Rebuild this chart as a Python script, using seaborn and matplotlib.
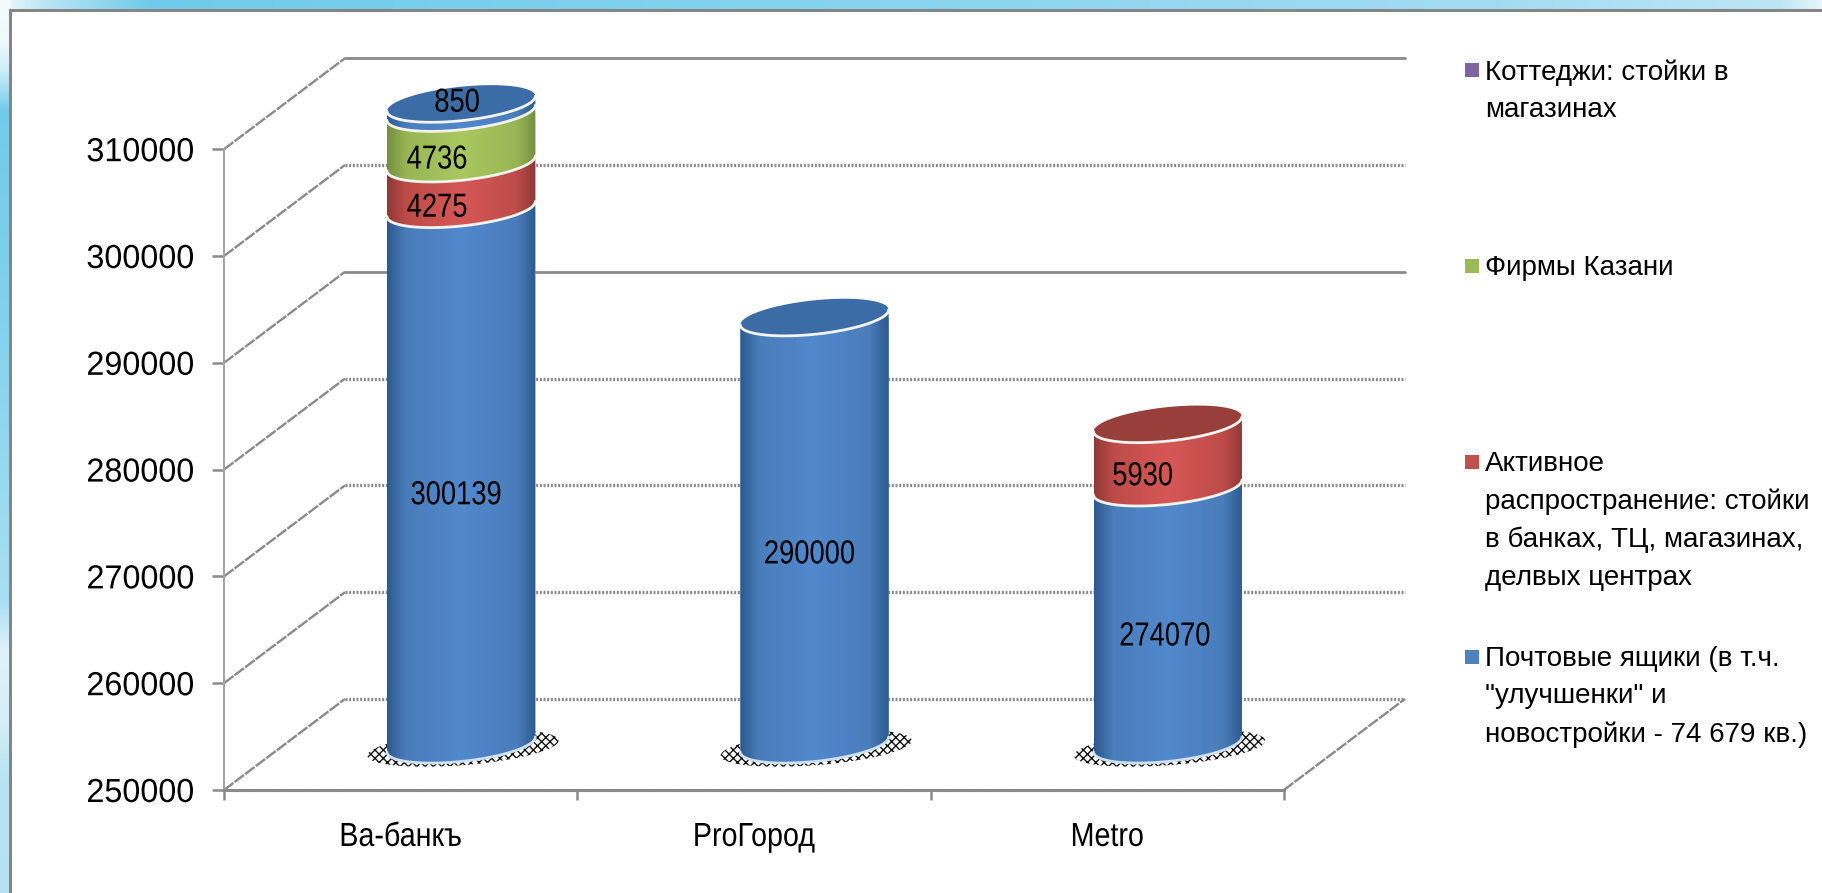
#!/usr/bin/env python3

import numpy as np
import pandas as pd
import matplotlib
matplotlib.use("Agg")
import matplotlib.pyplot as plt
from matplotlib.colors import LinearSegmentedColormap
from matplotlib.path import Path
from matplotlib.patches import Polygon
from matplotlib.patheffects import AbstractPathEffect
from matplotlib.transforms import Affine2D
import seaborn as sns

COMPANIES = ["Ва-банкъ", "ProГород", "Metro"]
POST_BOXES = [300139, 290000, 274070]
ACTIVE = [4275, 0, 5930]
FIRMS = [4736, 0, 0]
COTTAGES = [850, 0, 0]

SERIES_NAMES = ["Почтовые ящики", "Активное", "Фирмы Казани", "Коттеджи"]
SERIES_VALUES = [POST_BOXES, ACTIVE, FIRMS, COTTAGES]
Y_TICKS = [250000, 260000, 270000, 280000, 290000, 300000, 310000]

LEGEND_LABELS = [
    "Коттеджи: стойки в\nмагазинах",
    "Фирмы Казани",
    "Активное\nраспространение: стойки\nв банках, ТЦ, магазинах,\nделвых центрах",
    "Почтовые ящики (в т.ч.\n\"улучшенки\" и\nновостройки - 74 679 кв.)",
]
LEGEND_COLORS = ["#8064a2", "#9bbb59", "#c0504d", "#4f81bd"]
LEGEND_Y = [70, 266, 462, 657]

# dark edge, mid, highlight for the fake cylinder shading, top ellipse colour
# (the cottages slice really is blue in the original)
SHADES = {
    "Почтовые ящики": ("#2c5a8e", "#4a7dbb", "#5189cd", "#3c6ca5"),
    "Активное": ("#8f3835", "#bd4c49", "#d65856", "#983f3c"),
    "Фирмы Казани": ("#748f41", "#98b655", "#a9c85f", "#7d9a45"),
    "Коттеджи": ("#2c5a8e", "#4a7dbb", "#5189cd", "#3c6ca5"),
}

# little nudges of the value labels, in pixels
LABEL_NUDGE = {
    (0, 0): (-5, -19), (0, 1): (-24, -22), (0, 2): (-24, -22), (0, 3): (-4, 5),
    (1, 0): (-5, -24),
    (2, 0): (-3, -21), (2, 1): (-25, -21),
}

W, H = 1822, 893
PX_X = 353.3     # pixels per category
PX_Y = 106.8 / 10000     # pixels per value unit
X0_PX, Y0_PX = 224, 790  # where x=-0.5, y=250000 sit
WALL_DX = 121 / PX_X
WALL_DY = 91 / PX_Y
SEMI_MINOR = 17 / PX_Y
TILT = 7.5 / PX_Y
GRAY = "#8a8a8a"
SQUEEZE = 0.82   # the original type is a squashed Arial


class Squeeze(AbstractPathEffect):
    """Narrows drawn text horizontally around a pixel column."""

    def __init__(self, x0, sx=SQUEEZE):
        super().__init__()
        self.x0 = x0
        self.sx = sx

    def draw_path(self, renderer, gc, tpath, affine, rgbFace=None):
        squeezed = affine + Affine2D().translate(-self.x0, 0).scale(self.sx, 1).translate(self.x0, 0)
        renderer.draw_path(gc, tpath, squeezed, rgbFace)


def arc(cx, half, value, start, stop, n=60):
    t = np.linspace(start, stop, n)
    return cx + half * np.cos(t), value + SEMI_MINOR * np.sin(t) + TILT * np.cos(t)


def side_path(cx, half, low, high):
    xl, yl = arc(cx, half, low, np.pi, 2 * np.pi)
    xh, yh = arc(cx, half, high, 2 * np.pi, np.pi)
    return np.column_stack([np.r_[xl, xh], np.r_[yl, yh]])


def background():
    img = np.ones((H, W, 3))
    def rgb(c):
        return np.array(matplotlib.colors.to_rgb(c))
    top_x = [0, 40, 150, 800, 1500, 1780, 1821]
    top_c = np.array([rgb(c) for c in ["#f4fbfe", "#bfe8f5", "#6fcbe9", "#84d3ee", "#a3dcf2", "#bde6f5", "#e9f6fb"]])
    left_y = [0, 40, 70, 110, 300, 600, 650, 720, 780, 892]
    left_c = np.array([rgb(c) for c in ["#f4fbfe", "#eef9fd", "#cfeef8", "#70cbe9", "#80d1ec", "#a8dff2", "#dff2fa", "#d5eef8", "#b8e3f3", "#b5e2f3"]])
    for ch in range(3):
        img[:9, :, ch] = np.interp(np.arange(W), top_x, top_c[:, ch])[None, :]
        img[:, :10, ch] = np.interp(np.arange(H), left_y, left_c[:, ch])[:, None]
    img[9:12, 10:] = rgb("#858585")
    img[9:, 9:12] = rgb("#858585")
    return img


def main():
    sns.set_theme(style="white")
    plt.rcParams["font.family"] = ["Liberation Sans", "DejaVu Sans"]
    plt.rcParams["hatch.linewidth"] = 1.0

    fig = plt.figure(figsize=(W / 100, H / 100), dpi=100)
    bg = fig.add_axes([0, 0, 1, 1], zorder=-1)
    bg.imshow(background(), aspect="auto", interpolation="nearest")
    bg.axis("off")

    ax = fig.add_axes([0, 0, 1, 1])
    ax.patch.set_alpha(0)

    # stack the series, tallest cumulative first so the order of patches is known
    rows = []
    bottoms = np.zeros(len(COMPANIES))
    stack = []
    for name, vals in zip(SERIES_NAMES, SERIES_VALUES):
        tops = bottoms + np.array(vals)
        stack.append((name, bottoms.copy(), tops.copy()))
        for comp, top in zip(COMPANIES, tops):
            rows.append({"company": comp, "series": name, "top": top})
        bottoms = tops
    df = pd.DataFrame(rows)

    palette = {name: SHADES[name][1] for name in SERIES_NAMES}
    sns.barplot(data=df, x="company", y="top", hue="series", order=COMPANIES,
                hue_order=SERIES_NAMES[::-1], palette=palette, dodge=False,
                width=0.42, legend=False, saturation=1, ax=ax, zorder=5)
    bars = list(ax.patches)

    xlim = (-0.5 - X0_PX / PX_X, -0.5 + (W - X0_PX) / PX_X)
    ylim = (250000 - (H - Y0_PX) / PX_Y, 250000 + Y0_PX / PX_Y)
    ax.set_xlim(*xlim)
    ax.set_ylim(*ylim)
    ax.set_autoscale_on(False)

    # back wall, side wall
    for tick in Y_TICKS:
        solid = tick in (290000, 310000)
        ax.plot([-0.5 + WALL_DX, 2.5 + WALL_DX], [tick + WALL_DY] * 2, color=GRAY,
                lw=2 if solid else 2.4, ls="-" if solid else (0, (0.6, 0.5)), zorder=1)
        ax.plot([-0.5, -0.5 + WALL_DX], [tick, tick + WALL_DY], color=GRAY, lw=1.7,
                ls=(0, (5, 0.6)), zorder=1)
    ax.plot([2.5, 2.5 + WALL_DX], [250000, 250000 + WALL_DY], color=GRAY, lw=1.7,
            ls=(0, (5, 0.6)), zorder=1)

    n_comp = len(COMPANIES)
    depth = Affine2D().translate(WALL_DX / 2, WALL_DY / 2) + ax.transData
    for h, name in enumerate(SERIES_NAMES[::-1]):
        s_idx = SERIES_NAMES.index(name)
        for c in range(n_comp):
            bar = bars[h * n_comp + c]
            low = stack[s_idx][1][c]
            top = stack[s_idx][2][c]
            if top <= low:
                bar.set_visible(False)
                continue
            half = bar.get_width() / 2
            cx = bar.get_x() + half + WALL_DX / 2
            floor = max(low, 250000)
            base = floor + WALL_DY / 2
            peak = top + WALL_DY / 2
            clip = Path(side_path(cx, half, base, peak))
            dark, mid, light, cap = SHADES[name]
            cmap = LinearSegmentedColormap.from_list(
                name, [(0, dark), (0.13, mid), (0.5, light), (0.87, mid), (1, dark)])
            bar.set_transform(depth)
            bar.set_clip_box(None)
            bar.set_clip_path(clip, ax.transData)
            bar.set_zorder(3 + s_idx)
            im = ax.imshow(np.linspace(0, 1, 256)[None, :], cmap=cmap, aspect="auto",
                           extent=(cx - half, cx + half, base - 2 * SEMI_MINOR, peak + 2 * SEMI_MINOR),
                           zorder=3 + s_idx, interpolation="bilinear")
            im.set_clip_path(clip, ax.transData)

            # rim between the slices
            xa, ya = arc(cx, half, base, np.pi, 2 * np.pi)
            ax.plot(xa, ya, color="#cfe0ef" if s_idx == 0 else "#f4f4ee", lw=2,
                    zorder=3.5 + s_idx, solid_capstyle="round")
            if s_idx == 0:
                # stippled shadow under the cylinder
                xs, ys = arc(cx + 0.005, half * 1.29, base - 0.04 * WALL_DY, 0, 2 * np.pi)
                ax.add_patch(Polygon(np.column_stack([xs, ys]), closed=True, facecolor="none",
                                     edgecolor="#111111", lw=0, hatch="xxxx", zorder=2))

            is_top = all(stack[k][2][c] == top for k in range(s_idx, len(SERIES_NAMES)))
            if is_top:
                xc, yc = arc(cx, half, peak, 0, 2 * np.pi)
                ax.add_patch(Polygon(np.column_stack([xc, yc]), closed=True, facecolor=cap,
                                     edgecolor="none", zorder=7))
                xa, ya = arc(cx, half, peak, np.pi, 2 * np.pi)
                ax.plot(xa, ya, color="#f4f4f0", lw=2, zorder=7.5)

            value = SERIES_VALUES[s_idx][c]
            nudge = LABEL_NUDGE.get((c, s_idx), (0, 0))
            mid_value = (floor + top) / 2 + WALL_DY / 2
            label = ax.annotate(str(value), xy=(cx, mid_value), xytext=nudge,
                                textcoords="offset pixels", ha="center", va="center",
                                fontsize=24, color="black", zorder=9)
            label.set_path_effects([Squeeze(ax.transData.transform((cx, mid_value))[0] + nudge[0])])

    ax.set_xlabel("")
    ax.set_ylabel("")
    for side in ("top", "right"):
        ax.spines[side].set_visible(False)
    ax.spines["left"].set_position(("data", -0.5))
    ax.spines["left"].set_bounds(250000, 310000)
    ax.spines["left"].set(color="#a5a5a5", linewidth=1.4, linestyle=(0, (1, 0.6)))
    ax.spines["bottom"].set_position(("data", 250000))
    ax.spines["bottom"].set_bounds(-0.5, 2.5)
    ax.spines["bottom"].set(color=GRAY, linewidth=2.2, linestyle=(0, (0.6, 0.5)))

    # set_position resets the ticks, so tick styling comes after it
    ax.set_yticks(Y_TICKS)
    ax.set_yticklabels([str(t) for t in Y_TICKS])
    ax.set_xticks(range(n_comp))
    ax.set_xticklabels(COMPANIES)
    ax.set_xticks(np.arange(-0.5, n_comp), minor=True)
    ax.tick_params(axis="y", left=True, length=8.5, width=1.8, color=GRAY, pad=13,
                   labelsize=24, labelcolor="black")
    ax.tick_params(axis="x", which="major", bottom=False, pad=17, labelsize=24, labelcolor="black")
    ax.tick_params(axis="x", which="minor", bottom=True, length=7.5, width=1.8, color=GRAY)
    for lab in ax.get_yticklabels():
        lab.set_path_effects([Squeeze(195, sx=0.97)])
    for pos, lab in zip(range(n_comp), ax.get_xticklabels()):
        lab.set_path_effects([Squeeze(X0_PX + (pos + 0.5) * PX_X, sx=0.86)])

    # legend, first lines sit on an even pitch in the original so it's placed by hand
    for label, color, ypx in zip(LEGEND_LABELS, LEGEND_COLORS, LEGEND_Y):
        ax.scatter([1472 / W], [1 - ypx / H], marker="s", s=95, color=color, linewidths=0,
                   transform=ax.transAxes, clip_on=False, zorder=9)
        ax.text(1485 / W, 1 - (ypx - 11) / H, label, transform=ax.transAxes, ha="left", va="top",
                fontsize=20, color="black", linespacing=1.57, zorder=9)

    fig.savefig("out.png", dpi=100)


if __name__ == "__main__":
    main()
